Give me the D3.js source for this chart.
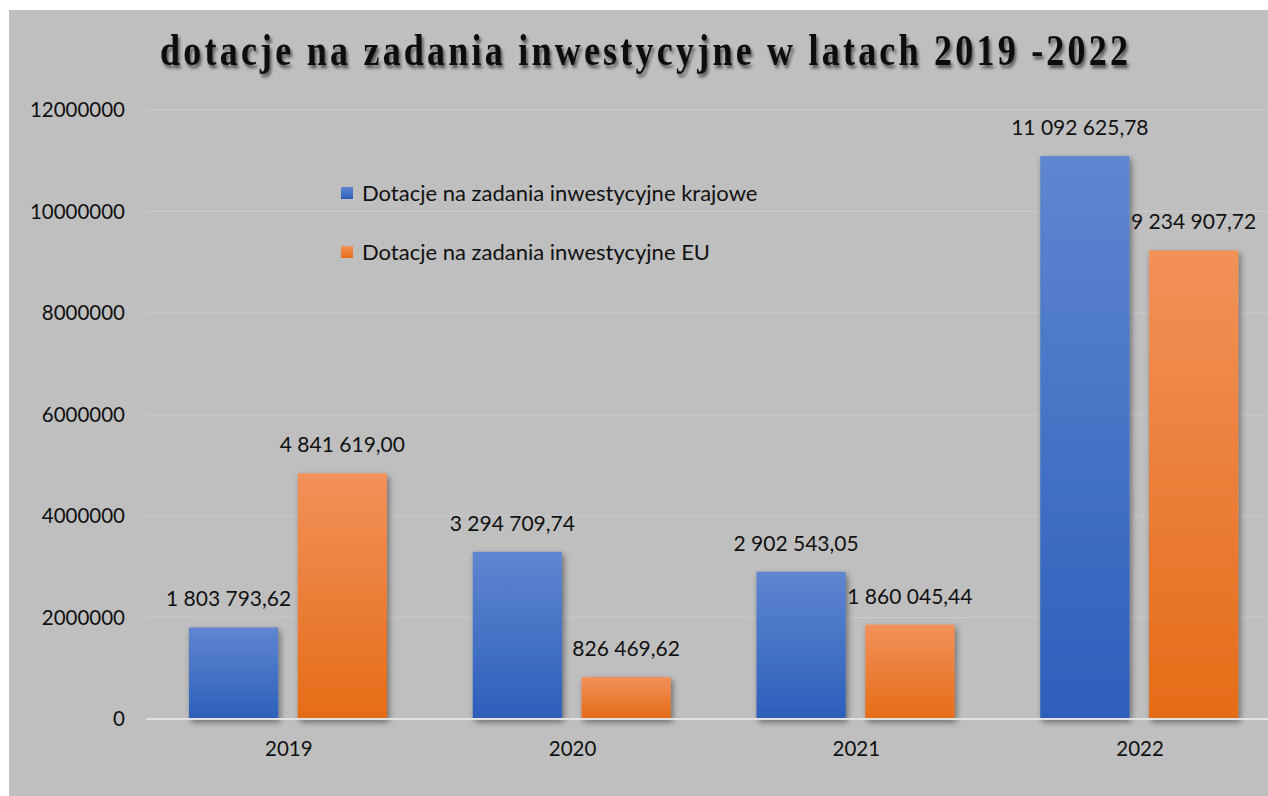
<!DOCTYPE html>
<meta charset="utf-8">
<script src="https://cdn.jsdelivr.net/npm/d3@7"></script>
<style>
	body { margin: 0; background: #ffffff; }
	svg { display: block; }
	.tick text { font-family: Lato, "Open Sans", sans-serif; font-size: 20.5px; fill: #111; }
	.labels { font-family: Lato, "Open Sans", sans-serif; font-size: 21px; fill: #111; }
	.legend text { font-family: Lato, "Open Sans", sans-serif; font-size: 22px; fill: #111; }
	.title { font-family: "Liberation Serif", "Times New Roman", serif; font-weight: bold; font-size: 40px; fill: #111; }
</style>
<svg></svg>
<script>
	var years = ["2019", "2020", "2021", "2022"];
	var seriesNames = ["Dotacje na zadania inwestycyjne krajowe", "Dotacje na zadania inwestycyjne EU"];
	var krajowe = [1803793.62, 3294709.74, 2902543.05, 11092625.78];
	var eu = [4841619.00, 826469.62, 1860045.44, 9234907.72];
	var yTicks = [0, 2000000, 4000000, 6000000, 8000000, 10000000, 12000000];

	var sizeSvg = { wt: 1268, ht: 796 };
	var plot = { left: 146, right: 1281, top: 110, bottom: 719 };

	var svg = d3.select("svg").attr("width", sizeSvg.wt).attr("height", sizeSvg.ht);

	var defs = svg.append("defs");
	function grad(id, top, bottom) {
		var g = defs.append("linearGradient").attr("id", id).attr("x1", 0).attr("y1", 0).attr("x2", 0).attr("y2", 1);
		g.append("stop").attr("offset", "0%").attr("stop-color", top);
		g.append("stop").attr("offset", "100%").attr("stop-color", bottom);
	}
	grad("gBlue", "#5f86d0", "#2c5fbb");
	grad("gOrange", "#f2915a", "#e56c17");
	defs.append("filter").attr("id", "shadow").attr("x", "-20%").attr("y", "-20%").attr("width", "150%").attr("height", "150%")
		.append("feDropShadow").attr("dx", 2).attr("dy", 3).attr("stdDeviation", 3).attr("flood-color", "#000").attr("flood-opacity", 0.45);
	defs.append("filter").attr("id", "tshadow").attr("x", "-5%").attr("y", "-30%").attr("width", "110%").attr("height", "160%")
		.append("feDropShadow").attr("dx", 2).attr("dy", 3).attr("stdDeviation", 1.5).attr("flood-color", "#000").attr("flood-opacity", 0.55);

	// gray chart area
	svg.append("rect").attr("x", 9).attr("y", 10).attr("width", sizeSvg.wt - 9).attr("height", sizeSvg.ht - 10).attr("fill", "#bfbfbf");

	// title: narrow tall glyphs, wide spacing
	svg.append("g").attr("transform", "translate(644,65) scale(0.9,1.1)")
		.append("text").attr("class", "title")
		.attr("text-anchor", "middle")
		.attr("textLength", 968 / 0.9).attr("lengthAdjust", "spacing")
		.attr("filter", "url(#tshadow)")
		.text("dotacje na zadania inwestycyjne w latach 2019 -2022");

	var x0 = d3.scaleBand().domain(years).range([plot.left, plot.right]);
	var x1 = d3.scaleBand().domain([0, 1]).range([43, 241]).paddingInner(0.18);
	var y = d3.scaleLinear().domain([0, 12000000]).range([plot.bottom, plot.top]);

	// gridlines
	svg.append("g").selectAll("line").data(yTicks.slice(1)).enter().append("line")
		.attr("x1", plot.left).attr("x2", sizeSvg.wt)
		.attr("y1", function (d) { return y(d); }).attr("y2", function (d) { return y(d); })
		.attr("stroke", "#cacaca").attr("stroke-width", 1);

	var yAxis = d3.axisLeft(y).tickValues(yTicks).tickSize(0).tickPadding(21).tickFormat(d3.format("d"));
	var ya = svg.append("g").attr("transform", "translate(" + plot.left + ",0)").call(yAxis);
	ya.select(".domain").remove();

	var data = [];
	years.forEach(function (yr, i) {
		data.push({ year: yr, s: 0, v: krajowe[i] });
		data.push({ year: yr, s: 1, v: eu[i] });
	});

	var bars = svg.append("g");
	bars.selectAll("rect").data(data).enter().append("rect")
		.attr("x", function (d) { return x0(d.year) + x1(d.s); })
		.attr("y", function (d) { return y(d.v); })
		.attr("width", x1.bandwidth())
		.attr("height", function (d) { return y(0) - y(d.v); })
		.attr("fill", function (d) { return d.s == 0 ? "url(#gBlue)" : "url(#gOrange)"; })
		.attr("filter", "url(#shadow)");

	// baseline
	svg.append("line").attr("x1", plot.left).attr("x2", sizeSvg.wt).attr("y1", y(0)).attr("y2", y(0))
		.attr("stroke", "#e2e2e2").attr("stroke-width", 2);

	var fmt = function (v) {
		var parts = v.toFixed(2).split(".");
		return parts[0].replace(/\B(?=(\d{3})+(?!\d))/g, " ") + "," + parts[1];
	};
	svg.append("g").selectAll("text").data(data).enter().append("text")
		.attr("class", "labels")
		.attr("x", function (d) { return x0(d.year) + x1(d.s) + x1.bandwidth() / 2 + (d.s == 0 ? -5 : 0); })
		.attr("y", function (d) { return y(d.v) - 21; })
		.attr("text-anchor", "middle")
		.text(function (d) { return fmt(d.v); });

	var xAxis = d3.axisBottom(x0).tickSize(0).tickPadding(22);
	var xa = svg.append("g").attr("transform", "translate(0," + plot.bottom + ")").call(xAxis);
	xa.select(".domain").remove();
	xa.selectAll(".tick text").attr("x", 1);

	var legend = svg.append("g").attr("class", "legend").attr("transform", "translate(341,187)");
	var li = legend.selectAll("g").data(seriesNames).enter().append("g")
		.attr("transform", function (d, i) { return "translate(0," + i * 59 + ")"; });
	li.append("rect").attr("width", 12).attr("height", 12)
		.attr("fill", function (d, i) { return i == 0 ? "url(#gBlue)" : "url(#gOrange)"; });
	li.append("text").attr("x", 21).attr("y", 6).attr("dy", "0.35em").text(function (d) { return d; });
</script>
